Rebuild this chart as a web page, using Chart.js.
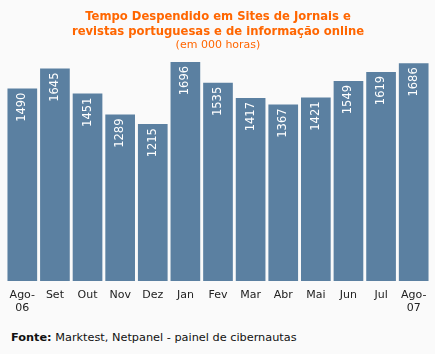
<!DOCTYPE html>
<html>
<head>
<meta charset="utf-8">
<script src="https://cdn.jsdelivr.net/npm/chart.js@4"></script>
<style>
  html, body { margin: 0; padding: 0; background: #fafafa; }
  #wrap { position: relative; width: 435px; height: 354px; background: #fafafa; }
  #c { position: absolute; left: 0; top: 0; }
  #fonte { position: absolute; left: 11px; top: 331px; font: 11.3px "DejaVu Sans", Verdana, sans-serif; color: #111; }
</style>
</head>
<body>
<div id="wrap">
  <canvas id="c" width="435" height="326"></canvas>
  <div id="fonte"><b>Fonte:</b> Marktest, Netpanel - painel de cibernautas</div>
</div>
<script>
const categories = [["Ago-","06"],"Set","Out","Nov","Dez","Jan","Fev","Mar","Abr","Mai","Jun","Jul",["Ago-","07"]];
const values = [1490,1645,1451,1289,1215,1696,1535,1417,1367,1421,1549,1619,1686];
const titleLines = ["Tempo Despendido em Sites de Jornais e","revistas portuguesas e de informação online"];
const subtitleText = "(em 000 horas)";

const FONT = "'DejaVu Sans', Verdana, sans-serif";

const valueLabels = {
  id: 'valueLabels',
  afterDatasetsDraw(chart) {
    const ctx = chart.ctx;
    const meta = chart.getDatasetMeta(0);
    ctx.save();
    ctx.fillStyle = '#ffffff';
    ctx.font = '11.5px ' + FONT;
    ctx.textAlign = 'right';
    ctx.textBaseline = 'middle';
    meta.data.forEach((bar, i) => {
      ctx.save();
      ctx.translate(bar.x, bar.y + 4);
      ctx.rotate(-Math.PI / 2);
      ctx.fillText(String(values[i]), 0, 0);
      ctx.restore();
    });
    ctx.restore();
  }
};

new Chart(document.getElementById('c'), {
  type: 'bar',
  data: {
    labels: categories,
    datasets: [{
      data: values,
      backgroundColor: '#5b80a1',
      borderWidth: 0,
      categoryPercentage: 0.91,
      barPercentage: 1.0
    }]
  },
  options: {
    responsive: false,
    animation: false,
    events: [],
    layout: { padding: { left: 6, right: 5, top: 0, bottom: 3.5 } },
    plugins: {
      legend: { display: false },
      tooltip: { enabled: false },
      title: {
        display: true,
        text: titleLines,
        color: '#ff6600',
        font: { family: FONT, size: 11.6, weight: 'bold', lineHeight: 1.25 },
        padding: { top: 10, bottom: 0 }
      },
      subtitle: {
        display: true,
        text: subtitleText,
        color: '#ff6600',
        font: { family: FONT, size: 11, weight: 'normal', lineHeight: 1.1 },
        padding: { top: 0, bottom: 0 }
      }
    },
    scales: {
      x: {
        grid: { display: false, drawTicks: false },
        border: { display: false },
        ticks: {
          color: '#222',
          font: { family: FONT, size: 11, lineHeight: 1.2 },
          padding: 7.5,
          maxRotation: 0,
          autoSkip: false
        }
      },
      y: {
        display: false,
        min: 0,
        max: 1780
      }
    }
  },
  plugins: [valueLabels]
});
</script>
</body>
</html>
